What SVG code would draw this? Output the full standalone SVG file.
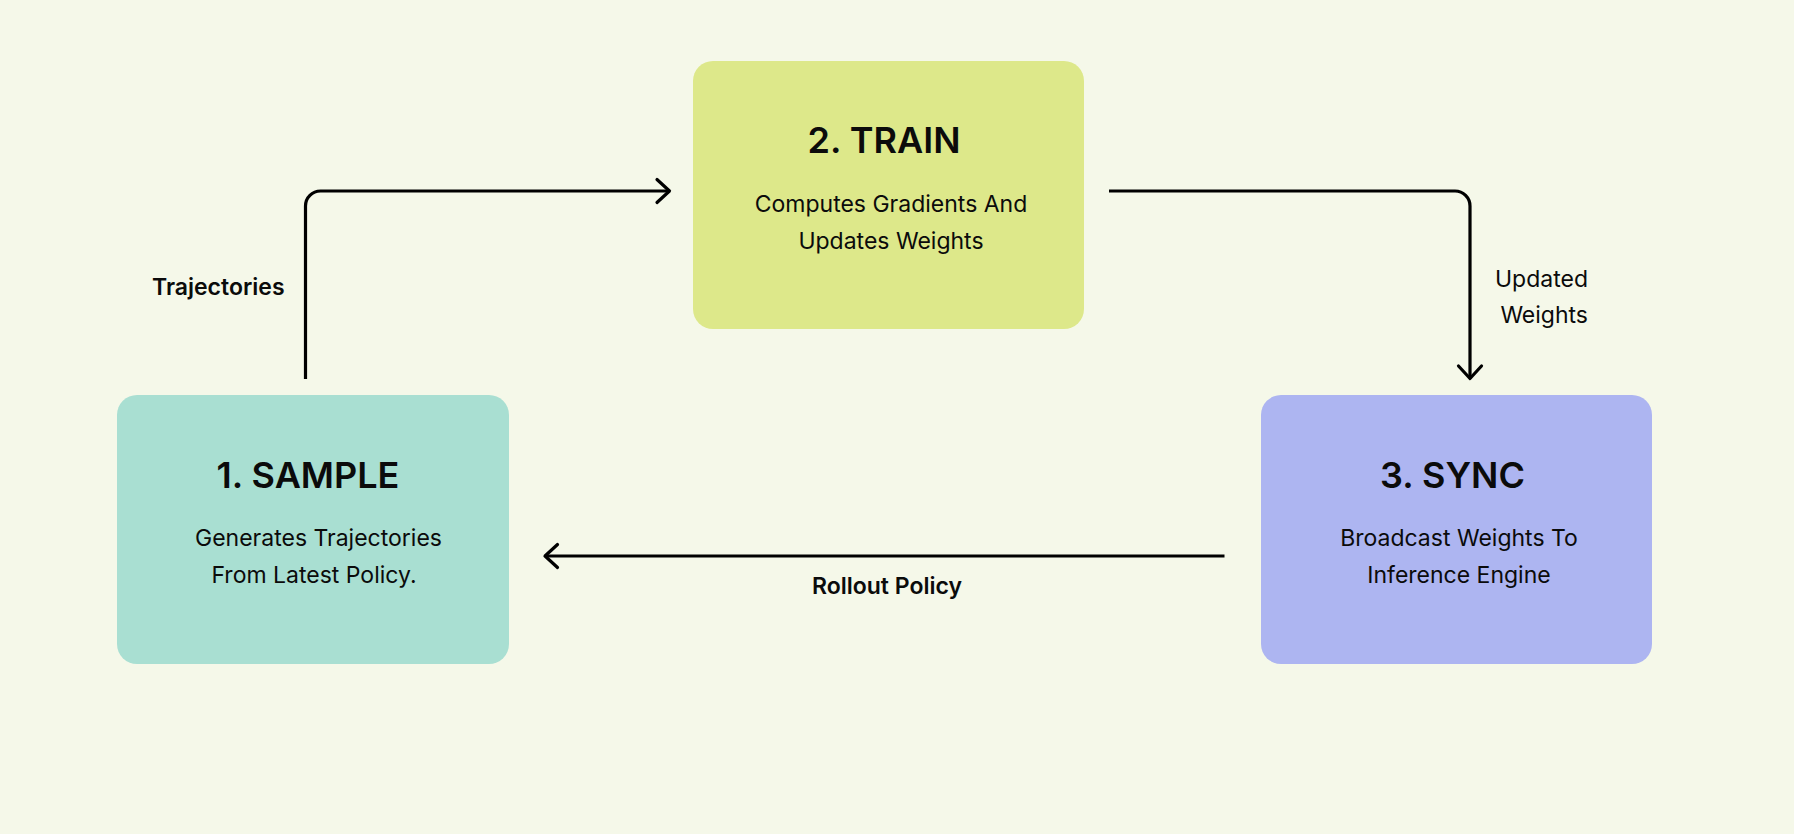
<svg xmlns="http://www.w3.org/2000/svg" width="1794" height="834" viewBox="0 0 1794 834">
  <defs>
    <style>
      .box { stroke: none; }
      .title { font-family: Inter, "Liberation Sans", sans-serif; font-weight: 600; font-size: 36px; fill: #0b0b0b; text-anchor: middle; }
      .sub { font-family: Inter, "Liberation Sans", sans-serif; font-weight: 400; font-size: 23px; fill: #0b0b0b; text-anchor: middle; }
      .elabel { font-family: Inter, "Liberation Sans", sans-serif; font-weight: 600; font-size: 23px; fill: #0b0b0b; }
      .elabel-r { font-family: Inter, "Liberation Sans", sans-serif; font-weight: 400; font-size: 23px; fill: #0b0b0b; text-anchor: end; }
      .conn { fill: none; stroke: #000; stroke-width: 3.2; stroke-linejoin: round; }
    </style>
    <marker id="arr" markerUnits="userSpaceOnUse" markerWidth="30" markerHeight="30" viewBox="-15 -15 30 30" refX="0" refY="0" orient="auto" overflow="visible">
      <path d="M-12.5,-11.5 L0,0 L-12.5,11.5" fill="none" stroke="#000" stroke-width="3.2" stroke-linecap="round" stroke-linejoin="round"/>
    </marker>
  </defs>
  <rect x="0" y="0" width="1794" height="834" fill="#f5f8e9"/>

  <g id="connectors">
    <path class="conn" d="M305.5,379 L305.5,206 A15,15 0 0 1 320.5,191 L669.5,191" marker-end="url(#arr)"/>
    <path class="conn" d="M1109,191 L1455,191 A15,15 0 0 1 1470,206 L1470,378.5" marker-end="url(#arr)"/>
    <path class="conn" d="M1224.5,556 L545,556" marker-end="url(#arr)"/>
    <text class="elabel" x="152" y="295.3">Trajectories</text>
    <text class="elabel-r" x="1588" y="286.7">Updated</text>
    <text class="elabel-r" x="1588" y="322.7">Weights</text>
    <text class="elabel" x="812" y="594.3">Rollout Policy</text>
  </g>

  <g id="node-sample">
    <rect class="box" x="117" y="395" width="392" height="269" rx="20" ry="20" fill="#a9dfd2"/>
    <text class="title" x="308" y="487.7">1. SAMPLE</text>
    <text class="sub" x="318.5" y="546">Generates Trajectories</text>
    <text class="sub" x="314" y="582.7">From Latest Policy.</text>
  </g>

  <g id="node-train">
    <rect class="box" x="693" y="61" width="391" height="268" rx="20" ry="20" fill="#dde88a"/>
    <text class="title" x="884" y="152.7">2. TRAIN</text>
    <text class="sub" x="891" y="212.3">Computes Gradients And</text>
    <text class="sub" x="891" y="249">Updates Weights</text>
  </g>

  <g id="node-sync">
    <rect class="box" x="1261" y="395" width="391" height="269" rx="20" ry="20" fill="#adb5f1"/>
    <text class="title" x="1452.5" y="487.7">3. SYNC</text>
    <text class="sub" x="1459" y="546">Broadcast Weights To</text>
    <text class="sub" x="1459" y="582.7">Inference Engine</text>
  </g>
</svg>
